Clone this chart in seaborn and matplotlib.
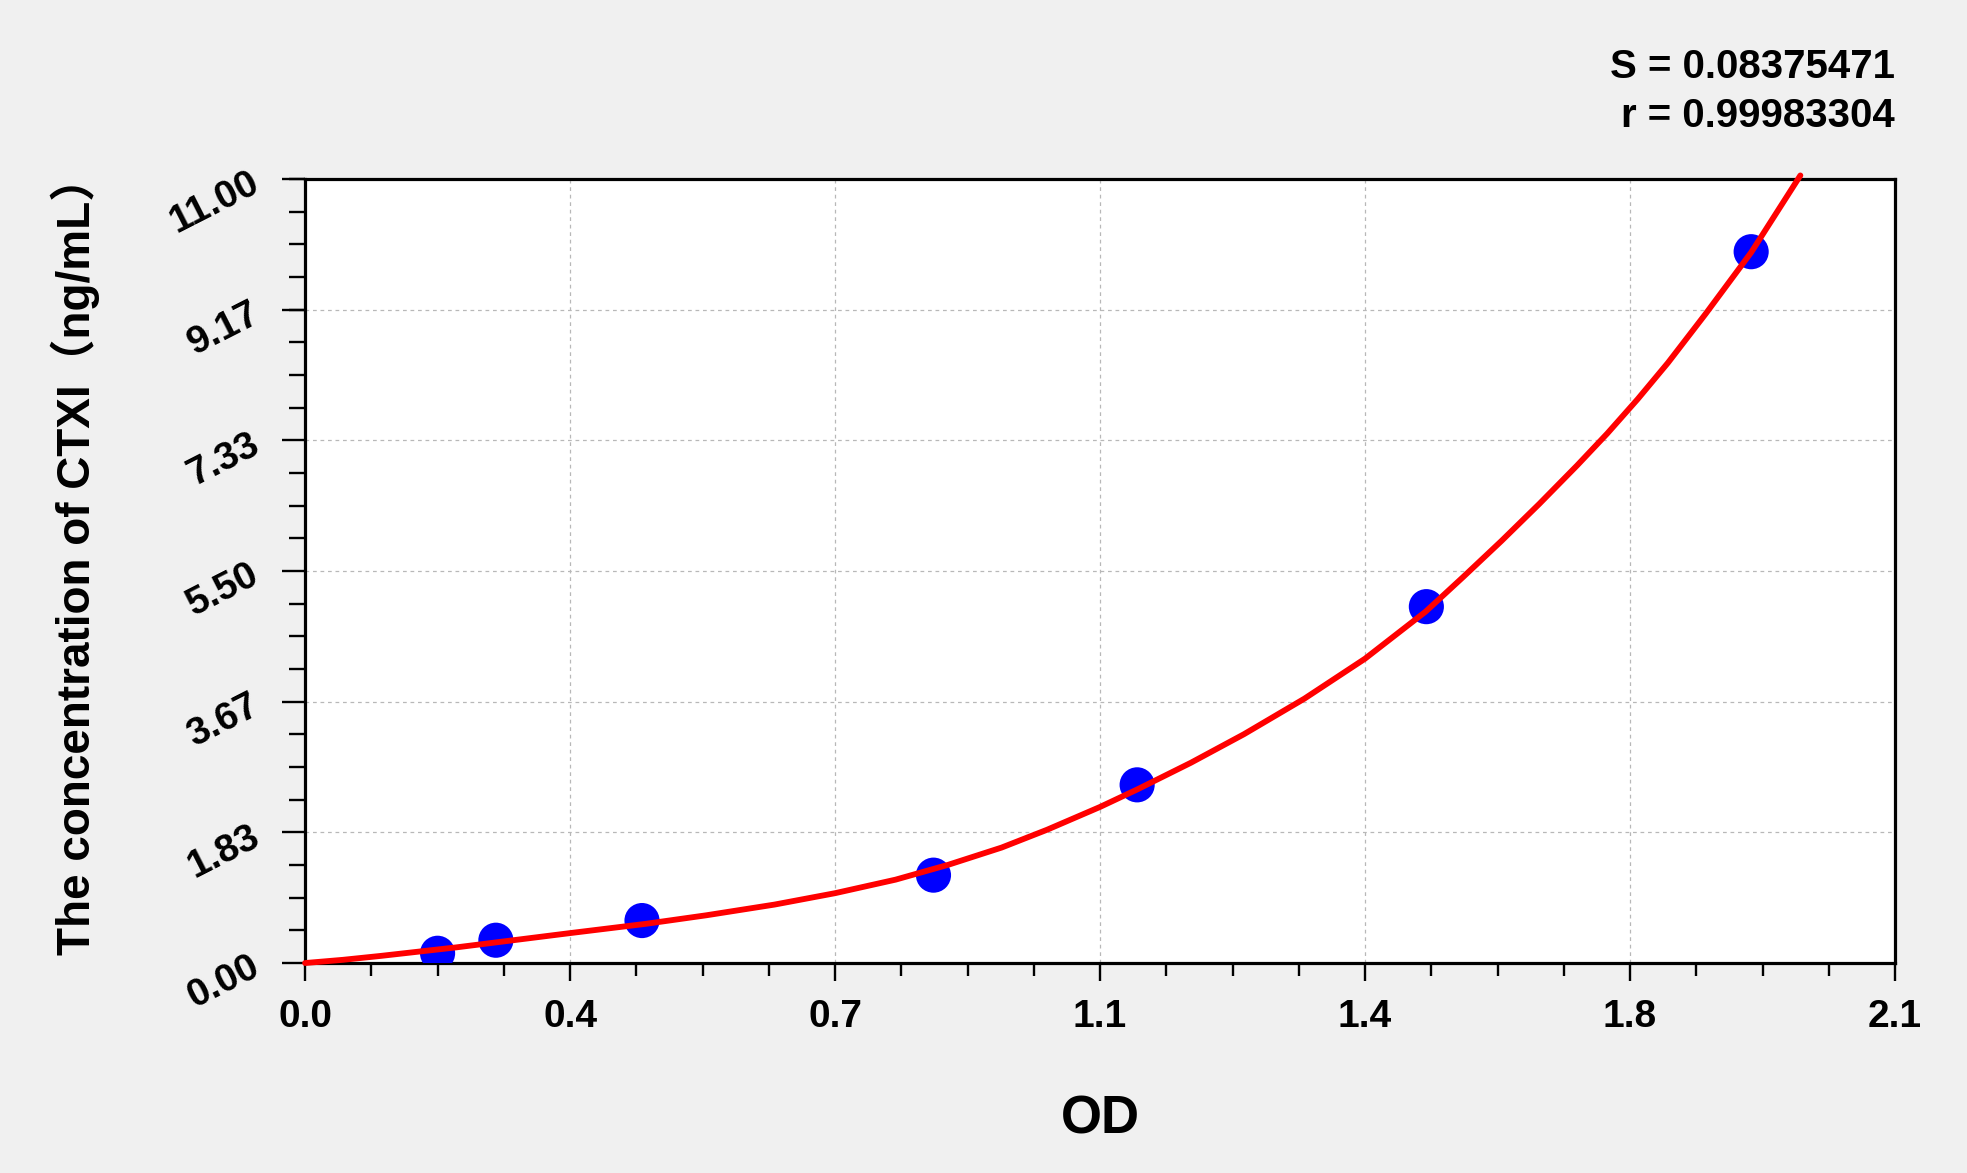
import matplotlib
matplotlib.use("Agg")
import matplotlib.pyplot as plt
import seaborn as sns
import pandas as pd
from matplotlib import font_manager as fm
from matplotlib.ticker import FixedLocator, AutoMinorLocator

# Standard points (OD vs concentration)
od = [0.175, 0.252, 0.445, 0.830, 1.099, 1.481, 1.910]
conc = [0.137, 0.320, 0.596, 1.233, 2.500, 5.000, 9.980]

# Fitted curve
fit_od = [0.00, 0.05, 0.10, 0.15, 0.20, 0.26, 0.35, 0.45, 0.53, 0.62, 0.70,
          0.78, 0.85, 0.92, 0.98, 1.05, 1.10, 1.17, 1.24, 1.32, 1.40, 1.48,
          1.53, 1.58, 1.63, 1.68, 1.72, 1.76, 1.80, 1.85, 1.91, 1.975]
fit_conc = [0.00, 0.045, 0.10, 0.16, 0.22, 0.30, 0.42, 0.55, 0.67, 0.82, 0.98,
            1.17, 1.38, 1.62, 1.87, 2.19, 2.44, 2.81, 3.21, 3.71, 4.27, 4.93,
            5.42, 5.92, 6.44, 6.98, 7.43, 7.91, 8.42, 9.11, 9.97, 11.05]

x_ticks = [0.0, 0.35, 0.70, 1.05, 1.40, 1.75, 2.10]
x_labels = ["0.0", "0.4", "0.7", "1.1", "1.4", "1.8", "2.1"]
y_ticks = [0.0, 1.8333, 3.6667, 5.5, 7.3333, 9.1667, 11.0]
y_labels = ["0.00", "1.83", "3.67", "5.50", "7.33", "9.17", "11.00"]

stats_text = ["S = 0.08375471", "r = 0.99983304"]

sns.set_style("ticks")
names = {f.name for f in fm.fontManager.ttflist}
narrow = "Liberation Sans Narrow" if "Liberation Sans Narrow" in names else "Liberation Sans"
plt.rcParams["font.family"] = [narrow, "Noto Sans CJK SC", "DejaVu Sans"]
plt.rcParams.update({"text.color": "black", "axes.labelcolor": "black",
                     "xtick.color": "black", "ytick.color": "black"})

fig = plt.figure(figsize=(19.67, 11.73), dpi=100)
fig.patch.set_facecolor("#f0f0f0")
ax = fig.add_axes([0.1551, 0.1790, 0.8083, 0.6684])
ax.set_facecolor("white")

pts = pd.DataFrame({"OD": od, "conc": conc})
curve = pd.DataFrame({"OD": fit_od, "conc": fit_conc})

sns.scatterplot(data=pts, x="OD", y="conc", s=640, color="#0000ff",
                edgecolor="none", ax=ax, zorder=3)
sns.lineplot(data=curve, x="OD", y="conc", color="#ff0000", linewidth=4.2,
             sort=False, estimator=None, ax=ax, zorder=4, clip_on=False)

ax.set_xlim(0, 2.1)
ax.set_ylim(0, 11)

ax.xaxis.set_major_locator(FixedLocator(x_ticks))
ax.yaxis.set_major_locator(FixedLocator(y_ticks))
ax.set_xticklabels(x_labels)
ax.set_yticklabels(y_labels)
ax.xaxis.set_minor_locator(AutoMinorLocator(4))
ax.yaxis.set_minor_locator(AutoMinorLocator(4))

ax.grid(True, which="major", color="#b8b8b8", linestyle=(0, (3, 3)), linewidth=0.9)
for s in ax.spines.values():
    s.set_visible(True)
    s.set_linewidth(2.3)
    s.set_color("black")

ax.tick_params(axis="x", which="major", direction="out", length=13, width=1.7,
               pad=13, labelsize=28)
ax.tick_params(axis="x", which="minor", direction="out", length=9.4, width=1.7)
ax.tick_params(axis="y", which="major", direction="out", length=16.6, width=1.7,
               pad=12, labelsize=28)
ax.tick_params(axis="y", which="minor", direction="out", length=11.5, width=1.7)

for lbl in ax.get_xticklabels():
    lbl.set_fontweight("bold")
for lbl in ax.get_yticklabels():
    lbl.set_fontweight("bold")
    lbl.set_family("Liberation Sans")
    lbl.set_rotation(27)

ax.set_xlabel("OD", fontsize=38, fontweight="bold")
ax.xaxis.set_label_coords(0.5, -0.2168)
ax.xaxis.label.set_va("baseline")
ax.set_ylabel("The concentration of CTXI（ng/mL）", fontsize=33, fontweight="bold")
ax.yaxis.set_label_coords(-0.1447, 0.52)
ax.yaxis.label.set_va("center")

ax.text(1.0, 1.1288, stats_text[0], transform=ax.transAxes, ha="right",
        va="baseline", fontsize=29, fontweight="bold")
ax.text(1.0, 1.0663, stats_text[1], transform=ax.transAxes, ha="right",
        va="baseline", fontsize=29, fontweight="bold")

fig.savefig("out.png", dpi=100, facecolor=fig.get_facecolor())
